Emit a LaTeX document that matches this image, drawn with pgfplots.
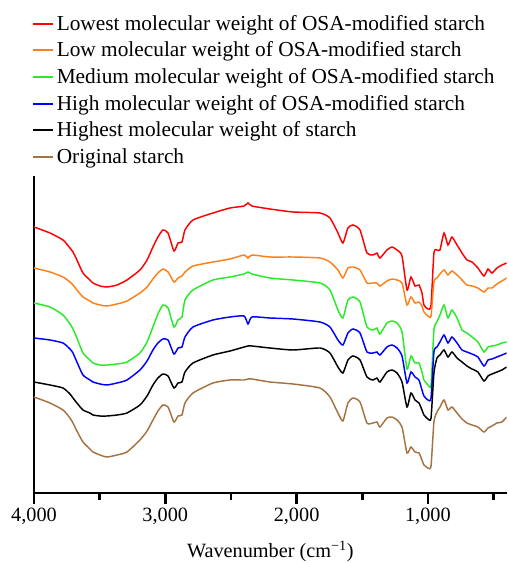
\documentclass[border=0pt]{standalone}
\usepackage{fontspec}
\setmainfont{Liberation Serif}
\usepackage{pgfplots}
\usepackage{pgfplotstable}
\pgfplotsset{compat=1.18}
\definecolor{cRed}{RGB}{255,0,0}
\definecolor{cOrange}{RGB}{255,128,24}
\definecolor{cGreen}{RGB}{40,235,40}
\definecolor{cBlue}{RGB}{0,0,255}
\definecolor{cBlack}{RGB}{0,0,0}
\definecolor{cBrown}{RGB}{165,115,65}
\pgfplotstableread{
w red orange green blue black brown
4000 273 232 197 162 118 103
3878 267 228 193 160 115 97
3779 260 223 185 157 112 90
3726 252 218 176 151 106 82
3703 248 215 171 147 102 77
3673 240 210 162 138 97 69
3627 227 203 147 125 90 58
3574 220 199 140 120 87 51
3551 217 197 137 118 85 48
3497 214 195 135 116 84 45
3444 213 194 135 115 84 43
3368 215 196 136 117 85 45
3292 220 199 138 120 87 48
3193 230 207 147 130 95 60
3139 240 213 158 139 104 69
3094 253 221 173 150 115 80
3056 263 227 186 157 122 89
3018 270 231 195 161 126 95
2979 267 228 192 160 124 93
2934 249 218 173 146 112 78
2903 257 222 180 152 117 84
2873 258 224 183 153 118 85
2850 270 228 200 163 128 97
2789 280 234 210 173 137 107
2637 287 238 220 180 145 117
2507 292 241 223 183 149 120
2400 294 245 226 184 153 120
2370 297 242 228 176 154 121
2340 294 245 226 183 154 121
2203 291 243 222 182 152 118
2027 288 243 220 181 150 116
1822 287 242 217 178 152 112
1746 282 238 210 173 147 103
1685 267 230 190 160 133 87
1647 257 222 182 155 127 79
1609 272 232 200 167 140 97
1570 275 233 203 171 144 102
1517 270 230 198 167 140 98
1464 247 217 173 148 123 77
1418 245 217 170 147 120 77
1388 247 217 172 148 122 78
1365 242 214 166 145 118 73
1312 250 219 177 153 128 82
1273 253 221 179 155 130 83
1235 250 220 177 152 127 80
1197 244 217 168 144 118 73
1159 210 195 131 117 93 47
1129 223 203 144 128 107 53
1098 214 197 137 123 100 48
1068 215 198 137 120 97 47
1045 207 194 128 110 90 40
1030 195 188 120 104 85 35
999 191 184 115 100 81 32
976 195 184 115 102 82 34
954 247 218 170 148 127 78
931 250 222 178 153 142 88
908 250 226 185 158 145 93
877 267 230 195 165 150 100
847 255 225 182 157 143 90
817 263 229 190 163 148 93
778 255 225 182 157 142 87
740 247 220 170 150 138 81
702 240 215 167 148 134 77
664 238 214 163 146 131 75
619 232 212 158 143 128 73
573 224 208 148 134 119 68
542 231 212 153 140 124 72
512 227 212 154 141 126 74
474 232 216 155 143 128 77
436 235 219 157 145 130 78
400 237 222 158 147 133 83
}\spectra
\begin{document}
\begin{tikzpicture}
\useasboundingbox (-25.5pt,-52.5pt) rectangle (356.25pt,369.75pt);
\begin{axis}[
  scale only axis, width=354.5pt, height=237.75pt,
  xmin=400, xmax=4000, x dir=reverse, ymin=7, ymax=324,
  axis x line*=bottom, axis y line*=left,
  axis line style={line width=2pt, -},
  xtick={1000,2000,3000,4000}, minor xtick={500,1500,2500,3500},
  ytick=\empty,
  tick align=outside, major tick length=8pt, minor tick length=5pt,
  every tick/.style={line width=2pt, black},
  every minor tick/.style={line width=2pt, black},
  /pgf/number format/assume math mode=true,
  /pgf/number format/1000 sep={,},
  ticklabel style={font=\fontsize{15.2}{18}\selectfont},
  xlabel={Wavenumber (cm\textsuperscript{−1})},
  xlabel style={font=\fontsize{15.2}{18}\selectfont, yshift=-5.5pt},
  legend cell align=left,
  legend image code/.code={%
    \draw[#1, sharp plot, line width=1.5pt] (0pt,0pt) -- (15pt,0pt);},
  legend style={draw=none, fill=none, font=\fontsize{16}{19}\selectfont,
    at={(axis description cs:-0.013,1.525)}, anchor=north west, row sep=3.2pt},
  every axis plot/.append style={smooth, tension=0.35, line width=1.1pt},
]
\addplot[color=cRed] table[x=w,y=red]{\spectra};
\addlegendentry{Lowest molecular weight of OSA-modified starch}
\addplot[color=cOrange] table[x=w,y=orange]{\spectra};
\addlegendentry{Low molecular weight of OSA-modified starch}
\addplot[color=cGreen] table[x=w,y=green]{\spectra};
\addlegendentry{Medium molecular weight of OSA-modified starch}
\addplot[color=cBlue] table[x=w,y=blue]{\spectra};
\addlegendentry{High molecular weight of OSA-modified starch}
\addplot[color=cBlack] table[x=w,y=black]{\spectra};
\addlegendentry{Highest molecular weight of starch}
\addplot[color=cBrown] table[x=w,y=brown]{\spectra};
\addlegendentry{Original starch}
\end{axis}
\end{tikzpicture}
\end{document}
